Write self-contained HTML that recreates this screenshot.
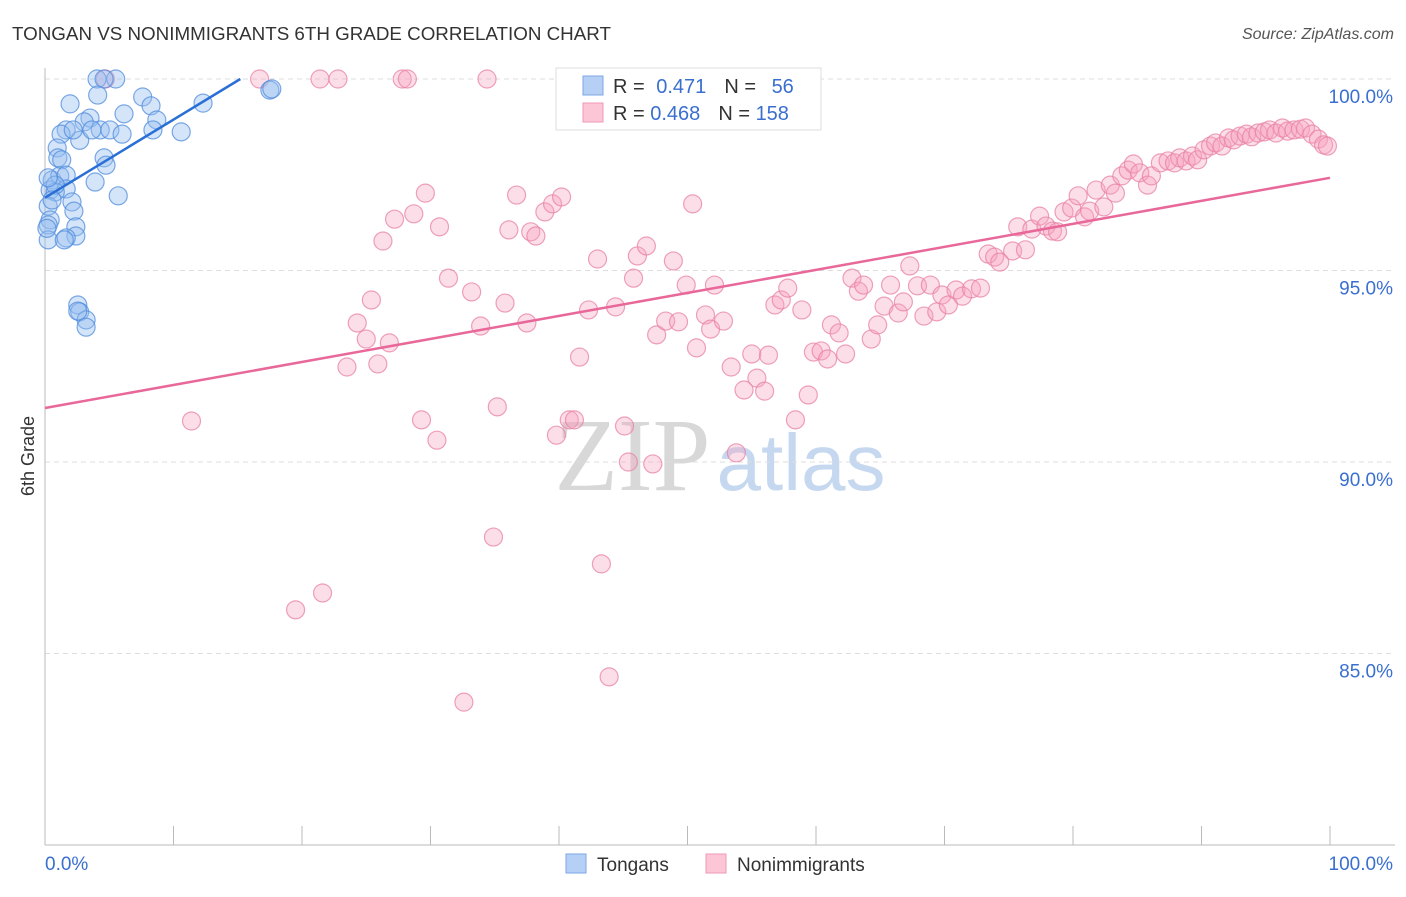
<!DOCTYPE html>
<html><head><meta charset="utf-8"><style>
body{margin:0;background:#fff;font-family:"Liberation Sans",sans-serif}
</style></head><body>
<svg id="chart" width="1406" height="892" xmlns="http://www.w3.org/2000/svg" font-family="Liberation Sans, sans-serif">
<text x="12" y="40" font-size="18.8" fill="#333">TONGAN VS NONIMMIGRANTS 6TH GRADE CORRELATION CHART</text>
<text x="1394" y="39" font-size="16" fill="#555" text-anchor="end" font-style="italic">Source: ZipAtlas.com</text>
<text x="720" y="490" font-size="104" text-anchor="middle" font-family="Liberation Serif, serif"><tspan fill="#d8d8d8">ZIP</tspan><tspan fill="#c6d8f0" font-family="Liberation Sans, sans-serif" font-size="80" dx="6">atlas</tspan></text>
<g id="grid"></g><g id="axes"></g><g id="pts"></g><g id="lines"></g>
<text transform="translate(34,456) rotate(-90)" font-size="18" fill="#333" text-anchor="middle">6th Grade</text>
<g>
<rect x="556" y="68" width="265" height="62" fill="#fff" stroke="#ddd"/>
<rect x="583" y="76" width="20" height="19" fill="#b6d0f5" stroke="#7ea7e3"/>
<rect x="583" y="103" width="20" height="19" fill="#fcc6d6" stroke="#ee9ab5"/>
<text x="613" y="93" font-size="20" fill="#333">R = <tspan fill="#3a6fd0" dx="6">0.471</tspan><tspan dx="18" fill="#333">N = </tspan><tspan dx="10" fill="#3a6fd0">56</tspan></text>
<text x="613" y="120" font-size="20" fill="#333">R = <tspan fill="#3a6fd0">0.468</tspan><tspan dx="18" fill="#333">N = </tspan><tspan fill="#3a6fd0">158</tspan></text>
</g>
<g>
<rect x="566" y="854" width="20" height="19" fill="#b6d0f5" stroke="#7ea7e3"/>
<text x="597" y="871" font-size="19" fill="#333">Tongans</text>
<rect x="706" y="854" width="20" height="19" fill="#fcc6d6" stroke="#ee9ab5"/>
<text x="737" y="871" font-size="19" fill="#333">Nonimmigrants</text>
</g>
</svg>
<script>
const yTicks=[100,95,90,85];
const yTickLabels=["100.0%","95.0%","90.0%","85.0%"];
const xTickLabels=["0.0%","100.0%"];
const blueX=[4.05,5.5,4.6,4.1,1.95,7.6,8.25,6.15,8.7,3.5,3.05,1.65,1.25,4.3,5.05,6.0,8.4,10.6,12.3,17.5,17.65,0.95,1.0,1.3,4.6,4.75,0.55,1.15,1.65,3.9,5.7,0.4,1.65,0.8,2.1,2.25,0.25,0.4,2.4,2.4,0.25,1.65,0.25,2.55,2.7,3.2,3.2,2.55,0.8,0.15,2.7,1.5,0.55,0.25,2.2,3.65];
const blueY=[100,100,100,99.58,99.35,99.53,99.3,99.09,98.93,98.98,98.88,98.67,98.56,98.67,98.67,98.56,98.67,98.62,99.37,99.71,99.74,98.2,97.94,97.89,97.94,97.75,97.36,97.47,97.49,97.31,96.95,97.1,97.13,97.05,96.79,96.55,96.68,96.32,96.14,95.9,96.19,95.85,95.8,94.1,93.92,93.71,93.52,93.94,97.23,96.1,98.4,95.8,96.84,97.42,98.67,98.67];
const pinkX=[16.7,21.4,22.8,27.8,28.2,34.4,4.7,11.4,19.5,21.6,32.6,43.9,34.9,43.3,23.5,24.3,25.4,25.0,25.9,26.8,26.3,27.2,28.7,29.6,30.7,31.4,33.2,33.9,29.3,30.5,35.2,35.8,36.1,36.7,37.5,37.8,38.2,38.9,39.5,40.2,39.8,40.8,41.2,41.6,42.3,43.0,44.4,45.1,45.4,45.8,46.1,46.8,47.3,47.6,48.3,48.9,49.3,49.9,50.4,50.7,51.4,51.8,52.1,52.8,53.4,53.8,54.4,55.0,55.4,56.0,56.3,56.8,57.3,57.8,58.4,58.9,59.4,59.8,60.4,60.9,61.2,61.8,62.3,62.8,63.3,63.7,64.3,64.8,65.3,65.8,66.4,66.8,67.3,67.9,68.4,68.9,69.4,69.8,70.3,70.9,71.4,72.1,72.8,73.4,73.9,74.3,75.3,75.7,76.3,76.8,77.4,77.9,78.4,78.8,79.3,79.9,80.4,80.9,81.3,81.8,82.4,82.9,83.3,83.8,84.3,84.7,85.2,85.8,86.1,86.8,87.4,87.9,88.3,88.8,89.3,89.7,90.2,90.7,91.1,91.6,92.1,92.5,93.0,93.5,93.9,94.4,94.9,95.3,95.8,96.3,96.7,97.2,97.7,98.1,98.6,99.1,99.5,99.8];
const pinkY=[100,100,100,100,100,100,100,91.07,86.14,86.58,83.73,84.39,88.04,87.34,92.48,93.63,94.23,93.21,92.56,93.11,95.77,96.34,96.48,97.02,96.14,94.80,94.44,93.55,91.10,90.57,91.44,94.15,96.06,96.97,93.63,96.01,95.90,96.53,96.74,96.92,90.70,91.10,91.10,92.74,93.97,95.30,94.05,90.94,90.00,94.80,95.38,95.64,89.95,93.32,93.68,95.25,93.66,94.62,96.74,92.98,93.84,93.47,94.62,93.68,92.48,90.24,91.88,92.82,92.19,91.85,92.79,94.10,94.23,94.54,91.10,93.97,91.75,92.87,92.90,92.69,93.58,93.37,92.82,94.80,94.46,94.62,93.21,93.58,94.07,94.62,93.89,94.18,95.12,94.60,93.81,94.62,93.92,94.36,94.10,94.49,94.33,94.52,94.54,95.43,95.35,95.22,95.51,96.14,95.54,96.08,96.42,96.16,96.03,96.01,96.53,96.63,96.95,96.40,96.55,97.10,96.66,97.23,97.02,97.47,97.62,97.78,97.55,97.23,97.47,97.81,97.86,97.81,97.94,97.86,97.99,97.89,98.15,98.25,98.33,98.25,98.46,98.41,98.51,98.56,98.49,98.59,98.62,98.67,98.59,98.72,98.64,98.67,98.69,98.72,98.56,98.43,98.28,98.25];
const blueTrend=[[0,96.9],[15.2,100]];
const pinkTrend=[[0,91.41],[100,97.42]];

const NS="http://www.w3.org/2000/svg";
const X0=45,X1=1330,YTOP=79;
const sx=v=>X0+(X1-X0)*v/100;
const sy=v=>YTOP+(100-v)*38.3;
function mk(tag,attrs,parent){const e=document.createElementNS(NS,tag);for(const k in attrs)e.setAttribute(k,attrs[k]);parent.appendChild(e);return e;}
const grid=document.getElementById('grid'),axes=document.getElementById('axes'),pts=document.getElementById('pts'),lines=document.getElementById('lines');
yTicks.forEach((t,i)=>{
  const l=mk('line',{x1:X0,x2:1395,y1:sy(t),y2:sy(t),stroke:'#ddd','stroke-dasharray':'5,4'},grid);
  
  
  const tx=mk('text',{x:1393,y:sy(t)+24,'font-size':19,fill:'#3a6fd0','text-anchor':'end'},axes);
  tx.textContent=yTickLabels[i];
  
  
});
const ya=mk('line',{x1:X0,x2:X0,y1:68,y2:845,stroke:'#bbb'},axes);


const xa=mk('line',{x1:X0,x2:1395,y1:845,y2:845,stroke:'#bbb'},axes);


for(let i=0;i<=10;i++){
  const t=mk('line',{x1:sx(i*10),x2:sx(i*10),y1:826,y2:845,stroke:'#bbb'},axes);
  
  
}
[[0,'start',45],[100,'end',1393]].forEach((d,i)=>{
  const tx=mk('text',{x:d[2],y:870,'font-size':19,fill:'#3a6fd0','text-anchor':d[1]},axes);
  tx.textContent=xTickLabels[i];
  
  
});
pinkX.forEach((v,i)=>{
  const c=mk('circle',{cx:sx(v),cy:sy(pinkY[i]),r:9,fill:'rgba(245,160,188,0.35)',stroke:'rgba(232,130,165,0.75)','stroke-width':1.2},pts);
  
  
});
blueX.forEach((v,i)=>{
  const c=mk('circle',{cx:sx(v),cy:sy(blueY[i]),r:9,fill:'rgba(150,190,240,0.4)',stroke:'rgba(80,140,220,0.75)','stroke-width':1.2},pts);
  
  
});
const bl=mk('line',{x1:sx(blueTrend[0][0]),y1:sy(blueTrend[0][1]),x2:sx(blueTrend[1][0]),y2:sy(blueTrend[1][1]),stroke:'#2a6fd6','stroke-width':2.5},lines);


const pl=mk('line',{x1:sx(pinkTrend[0][0]),y1:sy(pinkTrend[0][1]),x2:sx(pinkTrend[1][0]),y2:sy(pinkTrend[1][1]),stroke:'#e8689a','stroke-width':2.5},lines);


</script>
</body></html>
